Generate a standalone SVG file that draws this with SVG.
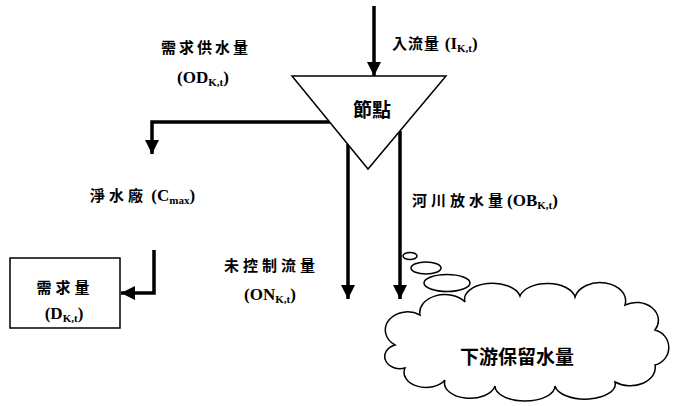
<svg xmlns="http://www.w3.org/2000/svg" width="679" height="406" viewBox="0 0 679 406">
<style>
.lbl{font-family:"Liberation Serif","Noto Sans CJK TC",serif;font-weight:bold;font-size:15px;fill:#000}
.lat{font-size:17px;letter-spacing:0}
.sub{font-size:11px;letter-spacing:0}
.shape{fill:#fff;stroke:#000;stroke-width:1.5}
.flow{fill:none;stroke:#000;stroke-width:3.5;marker-end:url(#ah)}
.big{font-family:"Noto Sans CJK TC","Noto Sans",sans-serif;font-weight:bold;fill:#000}
</style>
<defs>
<marker id="ah" markerUnits="userSpaceOnUse" markerWidth="14" markerHeight="14" refX="12" refY="6" orient="auto" viewBox="0 0 12 12">
<path d="M0,0 L12,6 L0,12 z" fill="#000"/>
</marker>
</defs>
<rect width="679" height="406" fill="#fff"/>
<g id="connectors">
<path class="flow" d="M374 6 V76"/>
<path class="flow" d="M331 122 H152 V154"/>
<path class="flow" d="M154 250 V293 H121"/>
<path class="flow" d="M348 144 V299"/>
<path class="flow" d="M400 131 V299"/>
</g>
<g id="node">
<polygon class="shape" points="292,76 446,76 368,169"/>
<text class="big" x="372" y="117" font-size="19" text-anchor="middle">節點</text>
</g>
<g id="demand-supply">
<text class="lbl" x="161" y="53" letter-spacing="3">需求供水量</text>
<text class="lbl lat" x="177" y="83">(OD<tspan class="sub" dy="3">K,t</tspan><tspan dy="-3">)</tspan></text>
</g>
<g id="inflow">
<text class="lbl" x="392" y="49" letter-spacing="1">入流量 <tspan class="lat">(I</tspan><tspan class="sub" dy="3">K,t</tspan><tspan class="lat" dy="-3">)</tspan></text>
</g>
<g id="plant">
<text class="lbl" x="90" y="201"><tspan letter-spacing="4">淨水廠</tspan><tspan class="lat"> (C</tspan><tspan class="sub" dy="3">max</tspan><tspan class="lat" dy="-3">)</tspan></text>
</g>
<g id="demand">
<rect class="shape" x="10" y="258" width="110" height="70"/>
<text class="lbl" x="65" y="293" text-anchor="middle" letter-spacing="4">需求量</text>
<text class="lbl lat" x="64" y="319" text-anchor="middle">(D<tspan class="sub" dy="3">K,t</tspan><tspan dy="-3">)</tspan></text>
</g>
<g id="uncontrolled">
<text class="lbl" x="224" y="271" letter-spacing="4">未控制流量</text>
<text class="lbl lat" x="244" y="300">(ON<tspan class="sub" dy="3">K,t</tspan><tspan dy="-3">)</tspan></text>
</g>
<g id="release">
<text class="lbl" x="412" y="206"><tspan letter-spacing="4">河川放水量</tspan><tspan class="lat">(OB</tspan><tspan class="sub" dy="3">K,t</tspan><tspan class="lat" dy="-3">)</tspan></text>
</g>
<g id="downstream">
<ellipse class="shape" cx="410" cy="256" rx="7" ry="3.5"/>
<ellipse class="shape" cx="426" cy="268" rx="15" ry="6"/>
<ellipse class="shape" cx="447" cy="283" rx="23" ry="8.5"/>
<path class="shape" d="M395 345 A22 18 0 0 1 420 315 A25 18 0 0 1 465 302 A28 16 0 0 1 520 296 A28 16 0 0 1 575 297 A25 18 0 0 1 625 305 A22 18 0 0 1 655 330 A18 18 0 0 1 655 365 A25 18 0 0 1 615 382 A30 15 0 0 1 555 386 A30 15 0 0 1 495 386 A25 15 0 0 1 445 380 A22 15 0 0 1 405 368 A15 12 0 0 1 395 345 Z"/>
<text class="big" x="517" y="364" font-size="19" text-anchor="middle">下游保留水量</text>
</g>
</svg>
